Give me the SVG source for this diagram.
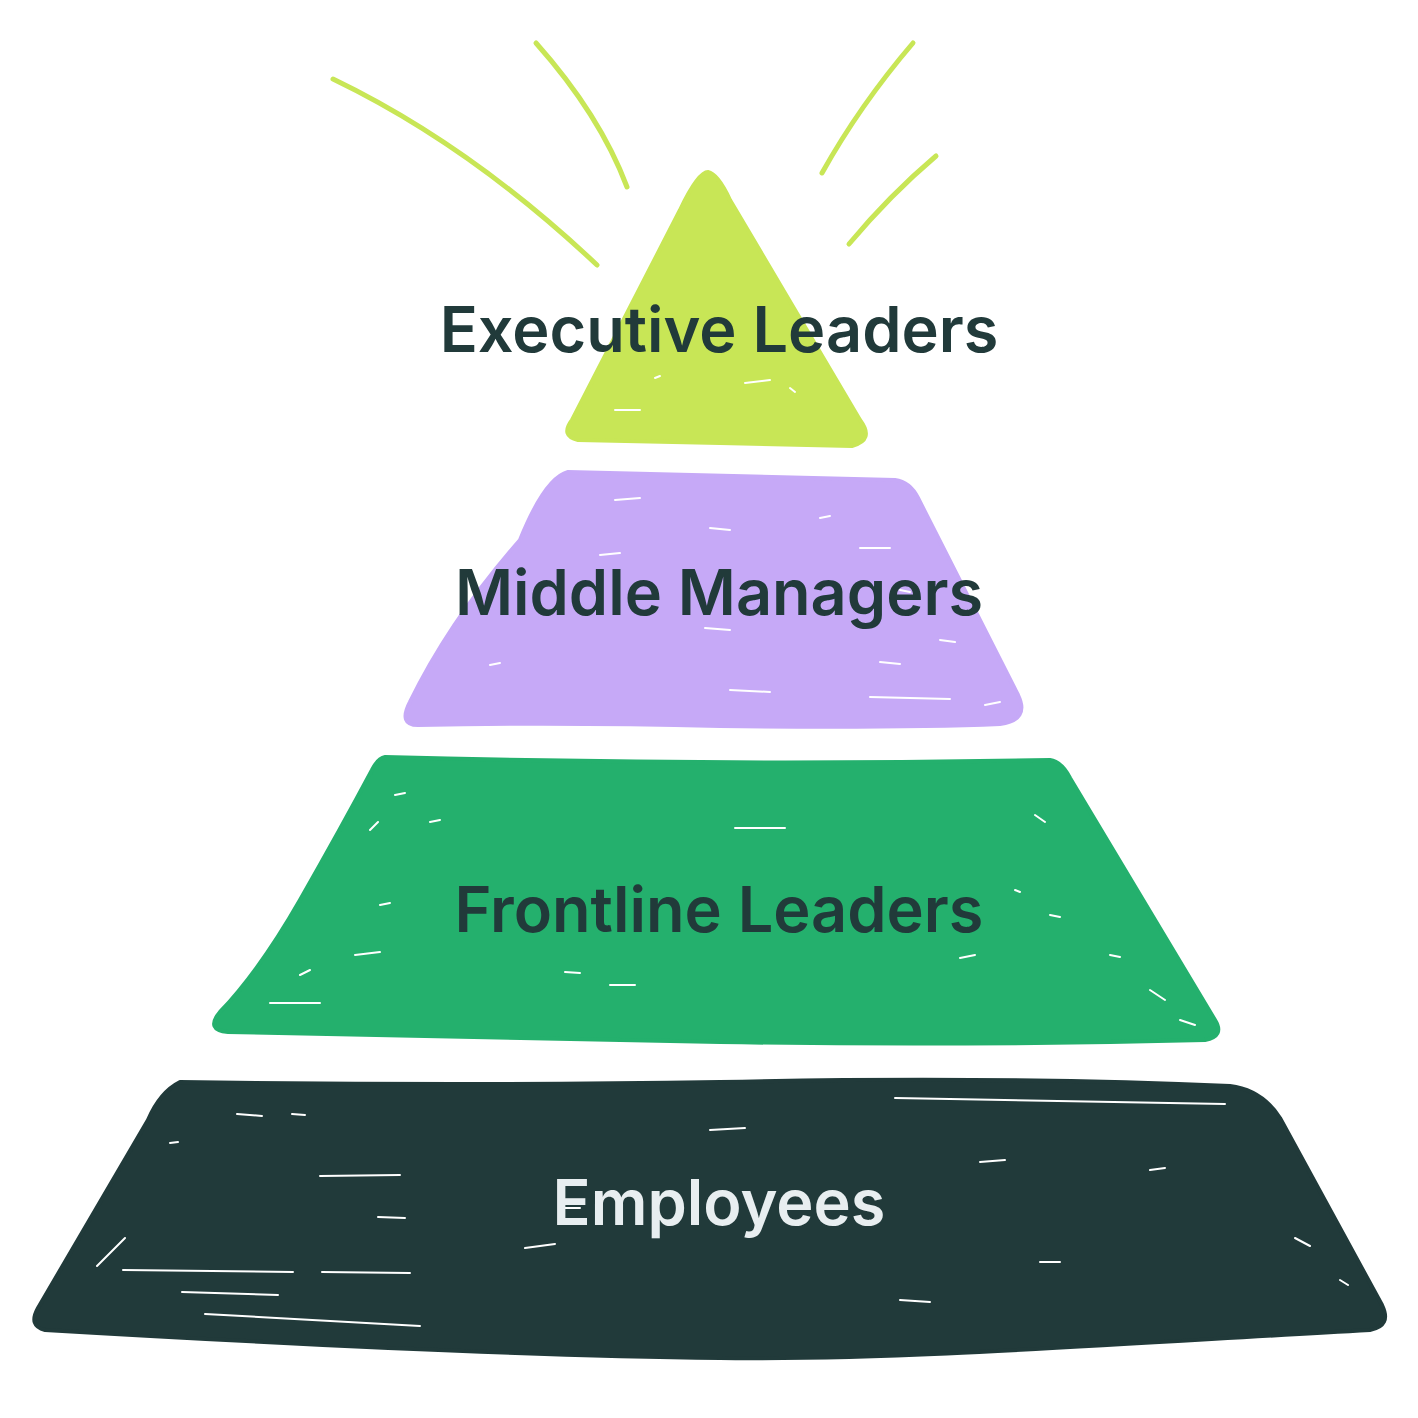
<svg xmlns="http://www.w3.org/2000/svg" width="1418" height="1418" viewBox="0 0 1418 1418">
<style>
.ray{fill:none;stroke:#C8E656;stroke-width:5;stroke-linecap:round}
.lbl{font-family:Inter,"Noto Sans","Liberation Sans",sans-serif;font-weight:600;font-size:63px;text-anchor:middle;fill:#213A3A}
.scr{fill:none;stroke:#fff;stroke-width:2;stroke-linecap:round}
</style>
<rect width="1418" height="1418" fill="#fff"/>
<g id="rays">
<path class="ray" d="M333 79 Q470 145 597 265"/>
<path class="ray" d="M536 43 Q600 115 627 187"/>
<path class="ray" d="M913 43 Q860 105 822 173"/>
<path class="ray" d="M936 156 Q890 195 849 244"/>
</g>
<g id="executive">
<path d="M708 172 Q718 174 730 200 L860 420 Q875 440 852 446 L720 443 L578 440 Q560 436 572 420 L680 210 Q698 172 708 172 Z" fill="#C8E656" stroke="#C8E656" stroke-width="4" stroke-linejoin="round"/>
<path class="scr" d="M615 410 L640 410 M745 383 L770 380 M790 388 L795 392 M655 378 L660 376"/>
<text class="lbl" x="719" y="352">Executive Leaders</text>
</g>
<g id="middle">
<path d="M568 472 L895 480 Q910 482 918 498 L1018 695 Q1030 720 1000 724 Q900 728 720 726 Q560 722 418 725 Q398 725 410 702 Q450 620 520 540 Q545 478 568 472 Z" fill="#C6A9F7" stroke="#C6A9F7" stroke-width="4" stroke-linejoin="round"/>
<path class="scr" d="M615 500 L640 498 M820 518 L830 516 M710 528 L730 530 M860 548 L890 548 M600 555 L620 553 M900 590 L910 592 M705 628 L730 630 M940 640 L955 642 M490 665 L500 663 M880 662 L900 664 M730 690 L770 692 M870 697 L950 699 M985 705 L1000 702"/>
<text class="lbl" x="719" y="615">Middle Managers</text>
</g>
<g id="frontline">
<path d="M385 757 Q720 766 1050 760 Q1062 762 1070 778 L1215 1020 Q1225 1036 1205 1040 Q960 1046 720 1042 Q470 1036 228 1032 Q205 1030 220 1012 Q260 970 300 900 Q340 830 372 770 Q378 758 385 757 Z" fill="#24B06D" stroke="#24B06D" stroke-width="4" stroke-linejoin="round"/>
<path class="scr" d="M395 795 L405 793 M430 822 L440 820 M735 828 L785 828 M370 830 L378 822 M1035 815 L1045 822 M380 905 L390 903 M1015 890 L1020 892 M1050 915 L1060 917 M355 955 L380 952 M960 958 L975 955 M565 972 L580 973 M610 985 L635 985 M300 975 L310 970 M1110 955 L1120 957 M270 1003 L320 1003 M1150 990 L1165 1000 M1180 1020 L1195 1025"/>
<text class="lbl" x="719" y="932">Frontline Leaders</text>
</g>
<g id="employees">
<path d="M180 1082 Q460 1086 720 1082 Q1000 1076 1230 1086 Q1262 1090 1280 1118 L1382 1305 Q1392 1326 1370 1330 C1100 1345 900 1360 720 1358 C540 1356 300 1345 45 1330 Q28 1326 38 1308 L148 1120 Q160 1092 180 1082 Z" fill="#213A3A" stroke="#213A3A" stroke-width="4" stroke-linejoin="round"/>
<path class="scr" d="M237 1114 L262 1116 M292 1114 L305 1115 M170 1143 L178 1142 M320 1176 L400 1175 M378 1217 L405 1218 M123 1270 L293 1272 M322 1272 L410 1273 M182 1292 L278 1295 M205 1314 L420 1326 M125 1238 L97 1266 M710 1130 L745 1128 M895 1098 L1225 1104 M980 1162 L1005 1160 M1150 1170 L1165 1168 M525 1248 L555 1244 M1040 1262 L1060 1262 M1295 1238 L1310 1246 M1340 1280 L1348 1285 M900 1300 L930 1302 M560 1208 L580 1208"/>
<text class="lbl" x="719" y="1225" style="fill:#E8EEF0">Employees</text>
</g>
</svg>
